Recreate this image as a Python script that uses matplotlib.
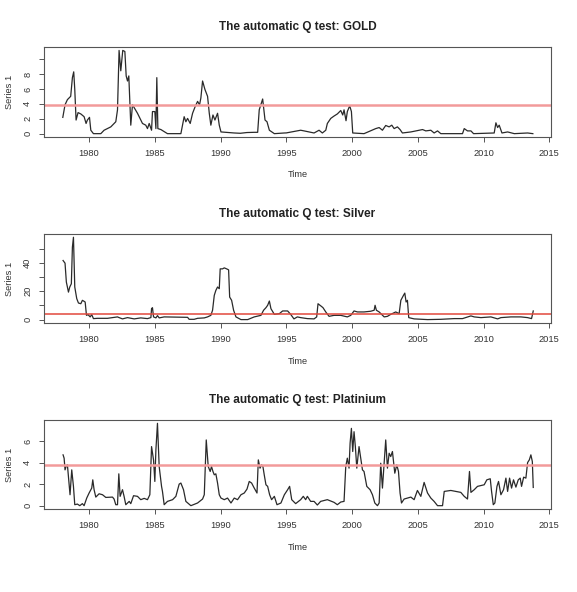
import matplotlib
matplotlib.use('Agg')
import matplotlib.pyplot as plt

plt.rcParams['font.family'] = ['Liberation Sans', 'DejaVu Sans']

THRESHOLD = 3.84

# Gold: (time, statistic)
gold_t = [1978.0, 1978.17, 1978.35, 1978.6, 1978.73, 1978.83, 1978.91, 1979.01, 1979.16, 1979.37,
          1979.62, 1979.77, 1979.87, 1980.03, 1980.13, 1980.33, 1980.89, 1981.14, 1981.65, 1982.03,
          1982.16, 1982.28, 1982.41, 1982.56, 1982.72, 1982.82, 1982.92, 1983.02, 1983.17, 1983.3,
          1983.68, 1984.06, 1984.31, 1984.44, 1984.57, 1984.75, 1984.82, 1985.0, 1985.08, 1985.15,
          1985.23, 1985.46, 1985.96, 1986.98, 1987.23, 1987.36, 1987.49, 1987.69, 1987.87, 1988.07,
          1988.25, 1988.4, 1988.5, 1988.63, 1988.81, 1989.01, 1989.14, 1989.26, 1989.42, 1989.57,
          1989.77, 1989.9, 1990.03, 1991.04, 1991.5, 1992.0, 1992.56, 1992.82, 1992.94, 1993.2,
          1993.38, 1993.53, 1993.71, 1994.09, 1994.85, 1995.0, 1996.09, 1996.35, 1997.11, 1997.49,
          1997.74, 1998.0, 1998.12, 1998.38, 1998.63, 1998.88, 1999.14, 1999.29, 1999.39, 1999.54,
          1999.64, 1999.82, 1999.95, 2000.05, 2000.91, 2001.8, 2002.06, 2002.31, 2002.56, 2002.82,
          2003.02, 2003.2, 2003.45, 2003.65, 2003.83, 2004.47, 2005.36, 2005.61, 2005.99, 2006.24,
          2006.5, 2006.75, 2008.4, 2008.53, 2008.78, 2009.04, 2009.24, 2010.81, 2010.94, 2011.07,
          2011.19, 2011.4, 2011.83, 2012.34, 2013.35, 2013.75]
gold_q = [2.19, 3.88, 4.57, 5.02, 7.53, 8.31, 5.94, 1.83, 2.83, 2.65,
          2.28, 1.37, 1.83, 2.19, 0.46, 0.0, 0.0, 0.46, 0.91, 1.6,
          3.2, 11.19, 8.45, 11.19, 11.05, 7.76, 7.08, 7.76, 1.14, 3.88,
          2.74, 1.37, 1.14, 0.68, 1.37, 0.46, 2.97, 2.97, 0.68, 7.53,
          0.68, 0.55, 0.0, 0.0, 2.28, 1.6, 2.05, 1.37, 2.74, 3.65,
          4.34, 3.88, 4.79, 7.08, 5.94, 5.02, 2.74, 1.14, 2.51, 1.83,
          2.74, 1.14, 0.23, 0.09, 0.05, 0.15, 0.18, 0.18, 3.2, 4.66,
          1.83, 1.6, 0.46, 0.0, 0.09, 0.1, 0.46, 0.37, 0.09, 0.46,
          0.09, 0.46, 1.37, 2.05, 2.37, 2.65, 3.11, 2.51, 3.2, 1.74,
          2.97, 3.74, 2.97, 0.09, 0.0, 0.68, 0.82, 0.46, 1.1, 0.91,
          1.14, 0.68, 0.91, 0.55, 0.09, 0.23, 0.55, 0.37, 0.46, 0.09,
          0.37, 0.0, 0.0, 0.68, 0.37, 0.37, 0.0, 0.09, 1.46, 0.82,
          1.14, 0.09, 0.23, 0.0, 0.09, 0.0]

# Silver
silver_t = [1978.02, 1978.17, 1978.27, 1978.43, 1978.53, 1978.65, 1978.73, 1978.81, 1978.91, 1979.06,
            1979.19, 1979.37, 1979.49, 1979.62, 1979.7, 1979.8, 1979.92, 1980.08, 1980.2, 1980.33,
            1980.63, 1981.4, 1982.16, 1982.28, 1982.54, 1982.92, 1983.43, 1983.93, 1984.44, 1984.7,
            1984.75, 1984.82, 1984.9, 1985.08, 1985.2, 1985.33, 1985.71, 1987.49, 1987.61, 1987.99,
            1988.25, 1988.76, 1989.01, 1989.26, 1989.39, 1989.52, 1989.64, 1989.77, 1989.9, 1989.97,
            1990.15, 1990.28, 1990.46, 1990.61, 1990.69, 1990.84, 1990.99, 1991.17, 1991.55, 1992.06,
            1992.56, 1993.07, 1993.27, 1993.45, 1993.58, 1993.71, 1993.83, 1994.09, 1994.47, 1994.72,
            1995.1, 1995.33, 1995.58, 1995.84, 1996.09, 1996.6, 1997.11, 1997.31, 1997.41, 1997.56,
            1997.66, 1997.79, 1998.0, 1998.25, 1998.63, 1999.14, 1999.64, 1999.9, 2000.15, 2000.41,
            2000.91, 2001.42, 2001.68, 2001.75, 2001.85, 2002.06, 2002.44, 2002.69, 2002.94, 2003.32,
            2003.58, 2003.71, 2003.91, 2004.01, 2004.11, 2004.21, 2004.31, 2004.72, 2005.74, 2006.75,
            2007.77, 2008.4, 2009.04, 2009.29, 2009.8, 2010.56, 2011.07, 2011.32, 2012.08, 2012.84,
            2013.35, 2013.65, 2013.78]
silver_q = [41.7, 39.8, 26.5, 19.4, 23.0, 25.3, 51.1, 58.1, 23.0, 14.8,
            11.7, 11.2, 13.6, 12.9, 12.4, 3.0, 3.5, 1.9, 3.5, 0.7,
            0.9, 0.9, 1.9, 1.4, 0.5, 1.4, 0.5, 1.2, 0.7, 1.4,
            7.7, 8.4, 1.9, 1.2, 2.8, 1.2, 1.9, 1.6, 0.2, 0.2,
            0.9, 1.2, 1.9, 3.0, 6.6, 17.1, 20.6, 23.0, 21.8, 35.8,
            35.8, 36.5, 35.8, 35.1, 15.9, 13.6, 6.6, 1.9, 0.0, 0.0,
            1.9, 3.0, 6.6, 8.4, 10.1, 13.1, 7.7, 3.7, 4.2, 6.1,
            6.1, 3.7, 0.5, 1.9, 1.4, 0.7, 0.5, 1.9, 11.2, 10.1,
            9.4, 8.4, 5.4, 2.3, 3.0, 3.0, 1.9, 3.0, 6.1, 5.4,
            5.4, 5.9, 6.6, 10.1, 6.6, 5.4, 1.9, 2.3, 3.7, 5.4,
            4.2, 13.6, 17.1, 18.7, 12.4, 13.6, 1.4, 0.5, 0.0, 0.2,
            0.7, 0.7, 2.6, 1.9, 1.4, 1.9, 0.5, 1.4, 1.9, 1.9,
            1.4, 0.7, 6.1]

# Platinium
plat_t = [1978.02, 1978.1, 1978.17, 1978.27, 1978.35, 1978.43, 1978.55, 1978.68, 1978.81, 1978.91,
          1979.11, 1979.29, 1979.49, 1979.62, 1979.82, 1980.0, 1980.13, 1980.2, 1980.28, 1980.38,
          1980.51, 1980.76, 1981.02, 1981.27, 1981.78, 1981.9, 1982.03, 1982.16, 1982.26, 1982.36,
          1982.54, 1982.66, 1982.79, 1983.05, 1983.17, 1983.38, 1983.68, 1983.93, 1984.19, 1984.44,
          1984.62, 1984.75, 1984.9, 1985.0, 1985.08, 1985.2, 1985.33, 1985.51, 1985.58, 1985.71,
          1985.96, 1986.35, 1986.6, 1986.85, 1986.98, 1987.18, 1987.36, 1987.74, 1988.25, 1988.63,
          1988.76, 1988.91, 1989.06, 1989.21, 1989.31, 1989.42, 1989.52, 1989.64, 1989.77, 1989.9,
          1990.03, 1990.28, 1990.53, 1990.79, 1991.04, 1991.29, 1991.55, 1991.8, 1992.01, 1992.18,
          1992.36, 1992.56, 1992.77, 1992.87, 1993.0, 1993.12, 1993.22, 1993.32, 1993.45, 1993.58,
          1993.73, 1993.88, 1994.09, 1994.29, 1994.59, 1994.85, 1995.1, 1995.25, 1995.41,
          1995.71, 1996.09, 1996.29, 1996.47, 1996.6, 1996.85, 1997.11, 1997.36, 1997.61, 1998.12,
          1998.63, 1998.88, 1999.14, 1999.39, 1999.52, 1999.64, 1999.77, 1999.85, 1999.95, 2000.05,
          2000.15, 2000.25, 2000.36, 2000.53, 2000.66, 2000.79, 2000.91, 2001.12, 2001.37, 2001.55,
          2001.73, 2001.93, 2002.06, 2002.18, 2002.31, 2002.44, 2002.56, 2002.69, 2002.82, 2002.94,
          2003.07, 2003.25, 2003.4, 2003.53, 2003.65, 2003.76, 2003.96, 2004.21, 2004.47, 2004.72,
          2004.97, 2005.23, 2005.48, 2005.74, 2005.99, 2006.24, 2006.5, 2006.88, 2007.01, 2007.51,
          2008.27, 2008.53, 2008.78, 2008.93, 2009.04, 2009.29, 2009.54, 2010.05, 2010.25, 2010.51,
          2010.61, 2010.74, 2010.86, 2011.02, 2011.14, 2011.32, 2011.52, 2011.7, 2011.83, 2011.98,
          2012.13, 2012.28, 2012.46, 2012.64, 2012.79, 2012.89, 2013.05, 2013.22, 2013.35, 2013.48,
          2013.6, 2013.71, 2013.78]
plat_q = [4.74, 4.43, 3.34, 3.72, 3.81, 2.72, 1.02, 3.34, 1.8, 0.09,
          0.15, 0.0, 0.19, 0.0, 0.71, 1.18, 1.49, 1.64, 2.41, 1.49,
          0.8, 1.11, 1.02, 0.77, 0.8, 0.62, 0.09, 0.09, 2.97, 0.87,
          1.49, 0.87, 0.09, 0.4, 0.19, 0.93, 0.87, 0.56, 0.68, 0.56,
          1.02, 5.51, 4.27, 2.26, 5.2, 7.68, 3.65, 1.8, 1.33, 0.09,
          0.4, 0.56, 0.87, 2.01, 2.11, 1.49, 0.4, 0.0, 0.25, 0.62,
          1.02, 6.13, 3.65, 3.19, 3.65, 3.19, 2.88, 2.97, 2.11, 1.02,
          0.71, 0.56, 0.71, 0.25, 0.71, 0.56, 1.02, 1.18, 1.55, 2.26,
          2.11, 1.64, 1.18, 4.27, 3.5, 3.81, 3.65, 2.88, 1.95, 1.8,
          1.02, 0.56, 0.87, 0.09, 0.25, 1.02, 1.49, 1.8, 0.56,
          0.19, 0.56, 0.87, 0.56, 0.87, 0.4, 0.4, 0.06, 0.4, 0.56,
          0.31, 0.09, 0.34, 0.4, 3.65, 4.43, 3.5, 5.82, 7.21, 5.05,
          6.9, 5.51, 3.5, 5.51, 4.43, 3.34, 3.19, 1.8, 1.49, 1.02,
          0.25, 0.0, 0.25, 3.96, 1.64, 3.96, 6.13, 3.5, 4.89, 4.58,
          5.05, 3.03, 3.81, 3.19, 1.18, 0.25, 0.62, 0.71, 0.8, 0.56,
          1.42, 0.87, 2.17, 1.18, 0.71, 0.4, 0.0, 0.0, 1.33, 1.42,
          1.24, 0.87, 0.62, 3.19, 1.24, 1.49, 1.8, 1.95, 2.41, 2.51,
          1.33, 0.09, 0.25, 1.8, 2.26, 1.02, 1.49, 2.57, 1.33, 2.57,
          1.64, 2.41, 1.73, 2.41, 2.57, 1.8, 2.66, 2.57, 4.02, 4.27,
          4.74, 4.12, 1.7]

x_ticks = [1980, 1985, 1990, 1995, 2000, 2005, 2010, 2015]

panels = [
    ('The automatic Q test: GOLD', gold_t, gold_q, [0, 2, 4, 6, 8, 10],
     ['0', '2', '4', '6', '8', ''], (-0.45, 11.65), '#f29a9a', 1.8),
    ('The automatic Q test: Silver', silver_t, silver_q, [0, 10, 20, 30, 40, 50],
     ['0', '', '20', '', '40', ''], (-2.4, 60.4), '#e2483c', 1.1),
    ('The automatic Q test: Platinium', plat_t, plat_q, [0, 2, 4, 6],
     ['0', '2', '4', '6'], (-0.31, 7.99), '#f29a9a', 1.8),
]

W, H = 577, 592
fig = plt.figure(figsize=(W / 100, H / 100), dpi=100)
fig.patch.set_facecolor('white')

# axes boxes in pixels: (left, top, right, bottom)
boxes = [(44, 47, 551, 137), (44, 234, 551, 323), (44, 420, 551, 509)]

txt = '#333333'
for (title, t, q, yt, ytl, ylim, red, rlw), (l, tp, r, b) in zip(panels, boxes):
    ax = fig.add_axes([l / W, 1 - b / H, (r - l) / W, (b - tp) / H])
    ax.plot(t, q, color='#2a2a2a', lw=0.9)
    ax.axhline(THRESHOLD, color=red, lw=rlw)
    ax.set_xlim(1976.57, 2015.13)
    ax.set_ylim(*ylim)
    ax.set_xticks(x_ticks)
    ax.set_xticklabels([str(x) for x in x_ticks])
    ax.set_yticks(yt)
    ax.set_yticklabels(ytl, rotation=90, va='center')
    ax.tick_params(length=3.5, width=0.7, color='#555555', labelsize=6.7,
                   labelcolor=txt, pad=5)
    for s in ax.spines.values():
        s.set_color('#555555')
        s.set_linewidth(0.8)
    hpx = b - tp
    ax.text(0.5, 1 + 20 / hpx, title, transform=ax.transAxes, ha='center', va='center',
            fontsize=8.5, fontweight='bold', color='#222222')
    ax.text(0.5, -38 / hpx, 'Time', transform=ax.transAxes, ha='center', va='center',
            fontsize=6.7, color=txt)
    ax.text(-34 / (r - l), 0.5, 'Series 1', transform=ax.transAxes, ha='center', va='center',
            rotation=90, fontsize=6.7, color=txt)

plt.savefig('out.png', dpi=100)
